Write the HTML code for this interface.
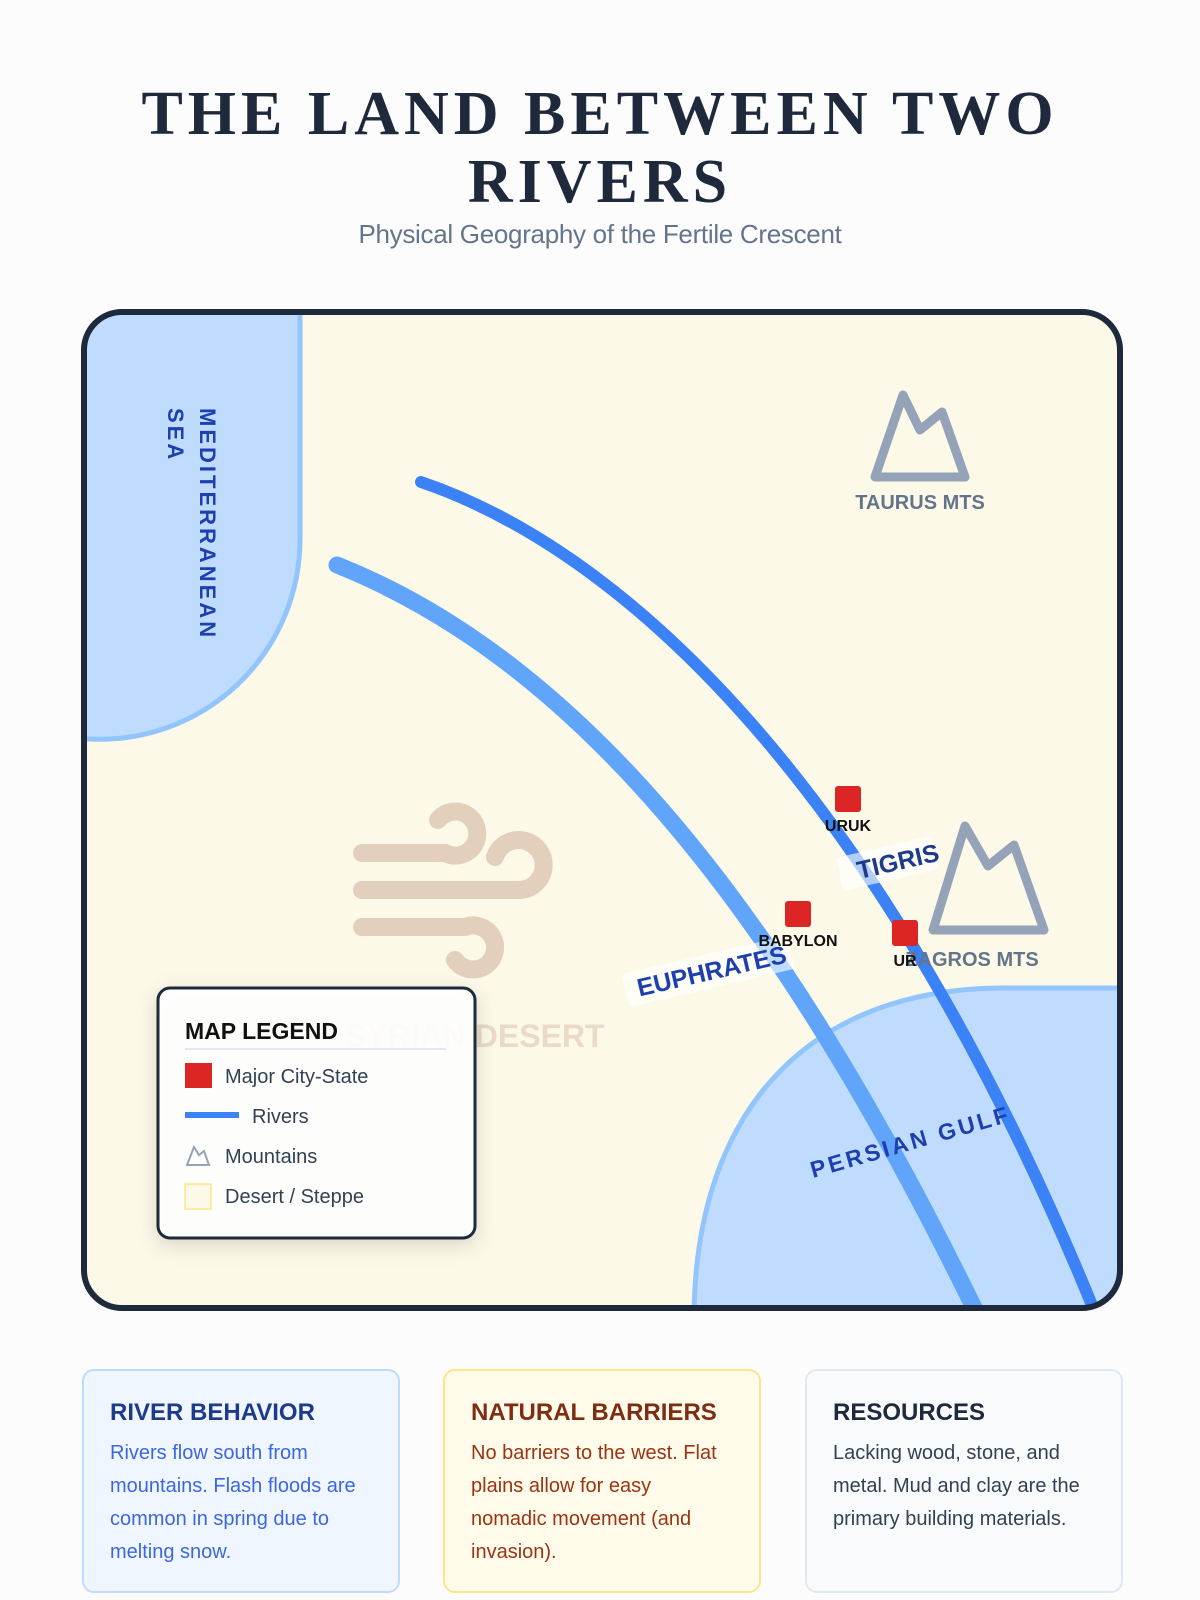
<!DOCTYPE html>
<html><head><meta charset="utf-8"><style>
body{margin:0;width:1200px;height:1600px;background:#fcfcfd;font-family:"Liberation Sans",sans-serif;position:relative;overflow:hidden}
h1{position:absolute;top:80px;left:0;width:1200px;text-align:center;margin:0;font-family:"Liberation Serif",serif;font-weight:bold;font-size:62px;letter-spacing:5px;line-height:68px;color:#1e293b}
.sub{position:absolute;top:219px;width:1200px;text-align:center;font-size:26px;color:#64748b;letter-spacing:-0.3px}
.card{position:absolute;top:1369px;width:318px;height:224px;border-radius:12px;box-sizing:border-box;padding:28px 36px 28px 26px}
.card h3{margin:0 0 10px;font-size:24px}
.card p{margin:0;font-size:20px;line-height:33px}
</style></head><body>
<h1>THE LAND BETWEEN TWO<br>RIVERS</h1>
<div class="sub">Physical Geography of the Fertile Crescent</div>
<svg style="position:absolute;left:0;top:0" width="1200" height="1600">
<defs><clipPath id="c"><rect x="85" y="313" width="1034" height="994" rx="37"/></clipPath></defs>
<rect x="84" y="312" width="1036" height="996" rx="38" fill="#fdf9e9"/>
<g clip-path="url(#c)">
<path d="M80 300 H300 V540 A200 200 0 0 1 90 739 H80 Z" fill="#bfdbfe" stroke="#93c5fd" stroke-width="5"/>
<path d="M694 1320 C694 1120 800 990 1000 988 H1130 V1320 Z" fill="#bfdbfe" stroke="#93c5fd" stroke-width="5"/>
<path d="M337 565 C600 670 800 950 980 1320" fill="none" stroke="#60a5fa" stroke-width="17" stroke-linecap="round"/>
<path d="M421 482 C650 560 900 830 1098 1320" fill="none" stroke="#3b82f6" stroke-width="12" stroke-linecap="round"/>
</g>
<rect x="84" y="312" width="1036" height="996" rx="38" fill="none" stroke="#1e293b" stroke-width="6"/>
<text transform="translate(200,408) rotate(90)" font-size="22" font-weight="bold" fill="#1e40af" letter-spacing="3">MEDITERRANEAN</text>
<text transform="translate(168,408) rotate(90)" font-size="22" font-weight="bold" fill="#1e40af" letter-spacing="3">SEA</text>
<text transform="translate(813,1178) rotate(-16)" font-size="23" font-weight="bold" fill="#1e40af" letter-spacing="3">PERSIAN GULF</text>
<path d="M875 477 L903 395 L920 430 L942 412 L965 477 Z" fill="none" stroke="#94a3b8" stroke-width="9" stroke-linejoin="round"/>
<text x="920" y="509" font-size="20" font-weight="bold" fill="#64748b" text-anchor="middle">TAURUS MTS</text>
<path d="M933 930 L965 826 L988 866 L1014 845 L1044 930 Z" fill="none" stroke="#94a3b8" stroke-width="9" stroke-linejoin="round"/>
<text x="972" y="966" font-size="20" font-weight="bold" fill="#64748b" text-anchor="middle">ZAGROS MTS</text>
<g>
<path d="M362 853 H445 A22 22 0 1 0 438 820" fill="none" stroke="#e2d0bc" stroke-width="18" stroke-linecap="round"/>
<path d="M362 890 H520 A25 25 0 1 0 495 857" fill="none" stroke="#e2d0bc" stroke-width="18" stroke-linecap="round"/>
<path d="M362 927 H465 A22 22 0 1 1 455 960" fill="none" stroke="#e2d0bc" stroke-width="18" stroke-linecap="round"/>
</g>
<text x="345" y="1047" font-size="32" font-weight="bold" fill="#e6d3bf" opacity="0.8">SYRIAN DESERT</text>
<g transform="translate(851,879) rotate(-13)"><rect x="-10" y="-24" width="98" height="34" fill="#fff" opacity="0.6" rx="4"/><text x="8" y="2" font-size="25" font-weight="bold" fill="#1e3a8a">TIGRIS</text></g>
<g transform="translate(637,995) rotate(-13)"><rect x="-10" y="-24" width="170" height="34" fill="#fff" opacity="0.6" rx="4"/><text x="2" y="2" font-size="25" font-weight="bold" fill="#1e40af">EUPHRATES</text></g>
<rect x="835" y="786" width="26" height="26" rx="3" fill="#dc2626"/>
<text x="848" y="831" font-size="16" font-weight="bold" fill="#111" text-anchor="middle">URUK</text>
<rect x="785" y="901" width="26" height="26" rx="3" fill="#dc2626"/>
<text x="798" y="946" font-size="16" font-weight="bold" fill="#111" text-anchor="middle">BABYLON</text>
<rect x="892" y="920" width="26" height="26" rx="3" fill="#dc2626"/>
<text x="905" y="966" font-size="16" font-weight="bold" fill="#111" text-anchor="middle">UR</text>
<rect x="158" y="988" width="317" height="250" rx="12" fill="#fff" fill-opacity="0.92" stroke="#1e293b" stroke-width="3" style="filter:drop-shadow(0 6px 10px rgba(0,0,0,.15))"/>
<text x="185" y="1039" font-size="23" font-weight="bold" fill="#111">MAP LEGEND</text>
<line x1="185" y1="1049" x2="446" y2="1049" stroke="#e2e8f0" stroke-width="2"/>
<rect x="185" y="1063" width="27" height="25" fill="#dc2626"/>
<text x="225" y="1083" font-size="20" fill="#334155">Major City-State</text>
<rect x="185" y="1112" width="54" height="6" fill="#3b82f6"/>
<text x="252" y="1123" font-size="20" fill="#334155">Rivers</text>
<path d="M187 1165 L194 1147 L199 1155 L204 1151 L209 1165 Z" fill="none" stroke="#94a3b8" stroke-width="2"/>
<text x="225" y="1163" font-size="20" fill="#334155">Mountains</text>
<rect x="185" y="1184" width="26" height="25" fill="#fdf9e9" stroke="#fde68a" stroke-width="1.5"/>
<text x="225" y="1203" font-size="20" fill="#334155">Desert / Steppe</text>
</svg>
<div class="card" style="left:82px;background:#eff6ff;border:2px solid #bfdbfe"><h3 style="color:#1e3a8a">RIVER BEHAVIOR</h3><p style="color:#1d4ed8;opacity:.85">Rivers flow south from mountains. Flash floods are common in spring due to melting snow.</p></div>
<div class="card" style="left:443px;background:#fffbeb;border:2px solid #fde68a"><h3 style="color:#7c2d12">NATURAL BARRIERS</h3><p style="color:#9a3412">No barriers to the west. Flat plains allow for easy nomadic movement (and invasion).</p></div>
<div class="card" style="left:805px;background:#f8fafc;border:2px solid #e2e8f0"><h3 style="color:#1e293b">RESOURCES</h3><p style="color:#334155">Lacking wood, stone, and metal. Mud and clay are the primary building materials.</p></div>
</body></html>
